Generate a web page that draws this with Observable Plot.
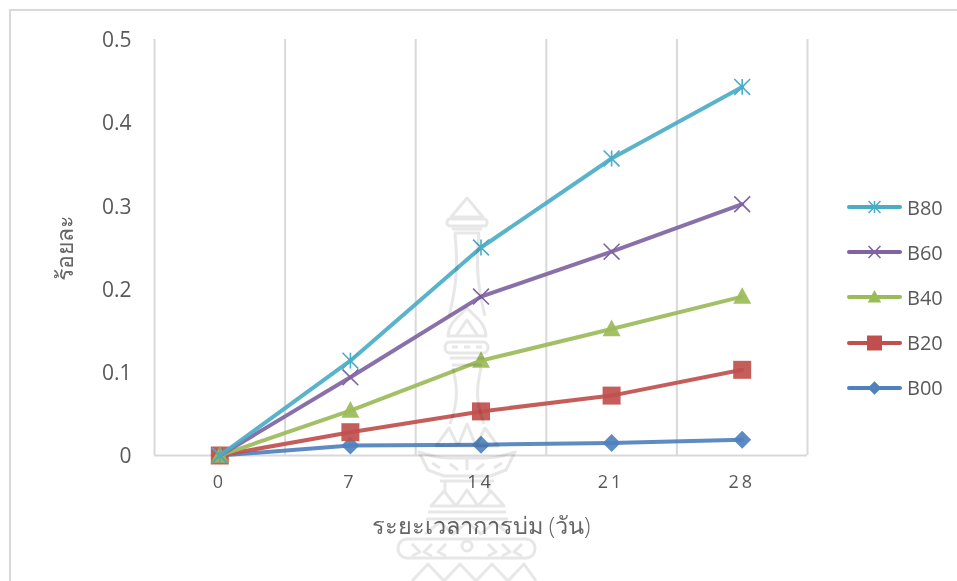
<!DOCTYPE html>
<html lang="th">
<head>
<meta charset="utf-8">
<script src="https://cdn.jsdelivr.net/npm/d3@7"></script>
<script src="https://cdn.jsdelivr.net/npm/@observablehq/plot@0.6"></script>
<style>
  html, body { margin: 0; padding: 0; background: #fff; }
  body { width: 957px; height: 581px; overflow: hidden; position: relative; }
  #frame { position: absolute; left: 9px; top: 9px; width: 960px; height: 600px; border: 2px solid #d9d9d9; box-sizing: border-box; }
  #chart { position: absolute; left: 0; top: 0; }
  #legend { position: absolute; left: 847px; top: 184.5px; font: 20px "Open Sans", sans-serif; color: #595959; }
  #legend .row { display: flex; align-items: center; height: 45.2px; }
  #legend svg { display: block; margin-right: 4px; }
  #seal { position: absolute; left: 0; top: 0; mix-blend-mode: multiply; pointer-events: none; }
  #seal * { fill: none; stroke: #e7e7e7; stroke-width: 3; stroke-linejoin: round; }
</style>
</head>
<body>
<div id="frame"></div>
<div id="chart"></div>
<div id="legend"></div>
<!-- Faint university seal printed across the page -->
<svg id="seal" width="957" height="581" viewBox="0 0 957 581">
  <path d="M467 198 L451 217 H483 Z"/>
  <rect x="447" y="219" width="40" height="7" rx="3"/>
  <path d="M452 229 H482 M454 233 H480"/>
  <path d="M455 234 C458 262 457 285 449 316 M479 234 C476 262 477 285 485 316"/>
  <path d="M448 336 C449 322 458 318 467 308 C476 318 485 322 486 336 Z"/>
  <path d="M456 336 L467 320 L478 336"/>
  <rect x="445" y="342" width="43" height="11" rx="5"/>
  <path d="M452 347 h6 M464 347 h6 M476 347 h6"/>
  <path d="M450 358 H484 M452 365 H482"/>
  <path d="M453 368 C458 390 458 402 450 424 M481 368 C476 390 476 402 484 424"/>
  <path d="M436 446 L449 428 L458 446 L467 424 L476 446 L485 428 L498 446 Z"/>
  <path d="M419 452 C432 456 438 458 448 458 H486 C496 458 502 456 515 452 L506 470 L490 476 H444 L428 470 Z"/>
  <path d="M432 463 L440 468 M450 464 L458 470 M467 459 V470 M484 464 L476 470 M502 463 L494 468"/>
  <path d="M440 481 H494 M445 482 V492 M489 482 V492"/>
  <path d="M431 506 L444 491 L456 506 L467 490 L478 506 L491 491 L504 506 Z"/>
  <path d="M428 512 H506 M426 519 H508"/>
  <path d="M425 534 L440 522 L453 534 L467 522 L481 534 L494 522 L509 534"/>
  <rect x="398" y="539" width="137" height="19" rx="9"/>
  <circle cx="467" cy="546" r="5"/>
  <path d="M412 544 L420 552 L412 556 M432 544 L424 552 L432 556 M446 544 L438 552 L446 556 M488 544 L496 552 L488 556 M502 544 L510 552 L502 556 M522 544 L514 552 L522 556"/>
  <path d="M412 581 L428 564 L444 581 L460 564 L476 581 L492 564 L508 581 L524 564 L536 581"/>
</svg>
<script>
// Days of curing and the percentage measured for each blend
const days = [0, 7, 14, 21, 28];
const categoryEdges = [-3.5, 3.5, 10.5, 17.5, 24.5, 31.5];
const yTicks = [0, 0.1, 0.2, 0.3, 0.4, 0.5];
const B00 = [0, 0.012, 0.013, 0.015, 0.019];
const B20 = [0, 0.028, 0.053, 0.072, 0.103];
const B40 = [0, 0.054, 0.114, 0.152, 0.191];
const B60 = [0, 0.094, 0.191, 0.245, 0.302];
const B80 = [0, 0.114, 0.25, 0.357, 0.443];

const seriesNames = ["B00", "B20", "B40", "B60", "B80"];
const seriesValues = [B00, B20, B40, B60, B80];
const seriesColors = ["#4f81bd", "#c0504d", "#9bbb59", "#8064a2", "#4bacc6"];

const rows = seriesNames.flatMap((name, i) =>
  days.map((day, j) => ({ name, day, value: seriesValues[i][j] }))
);

// Marker glyphs shared by the plot and the key; size is the squared half width
const glyphs = {
  B00: { draw(c, size) { const a = Math.sqrt(size); c.moveTo(0, -a); c.lineTo(a, 0); c.lineTo(0, a); c.lineTo(-a, 0); c.closePath(); } },
  B20: { draw(c, size) { const a = Math.sqrt(size); c.rect(-a, -a, 2 * a, 2 * a); } },
  B40: { draw(c, size) { const a = Math.sqrt(size); c.moveTo(0, -a * 1.05); c.lineTo(a, a * 0.8); c.lineTo(-a, a * 0.8); c.closePath(); } },
  B60: { draw(c, size) { const a = Math.sqrt(size) * 0.88; c.moveTo(-a, -a); c.lineTo(a, a); c.moveTo(a, -a); c.lineTo(-a, a); } },
  B80: { draw(c, size) { const a = Math.sqrt(size) * 0.88; c.moveTo(-a, -a); c.lineTo(a, a); c.moveTo(a, -a); c.lineTo(-a, a); c.moveTo(0, -a); c.lineTo(0, a); } }
};
const filled = new Set(["B00", "B20", "B40"]);

// Plot sizes symbols by area, so a half width of 9 means a radius of 9 / sqrt(pi)
const markerRadius = 9 / Math.sqrt(Math.PI);
const seriesMarks = seriesNames.flatMap((name, i) => {
  const data = rows.filter(d => d.name === name);
  const color = seriesColors[i];
  return [
    Plot.line(data, { x: "day", y: "value", stroke: color, strokeWidth: 4, strokeOpacity: 0.92 }),
    Plot.dot(data, {
      x: "day", y: "value",
      symbol: () => glyphs[name],
      r: markerRadius,
      fill: filled.has(name) ? color : "none",
      fillOpacity: 0.92,
      stroke: filled.has(name) ? "none" : color,
      strokeWidth: 1.6
    })
  ];
});

const chart = Plot.plot({
  width: 957,
  height: 581,
  marginLeft: 154,
  marginRight: 150,
  marginTop: 39,
  marginBottom: 126,
  style: { background: "transparent", fontFamily: "'Open Sans', sans-serif", color: "#595959" },
  x: { type: "linear", domain: [-3.5, 31.5], axis: null },
  y: { domain: [0, 0.5], axis: null },
  marks: [
    Plot.ruleX(categoryEdges, { stroke: "#d9d9d9", strokeWidth: 2 }),
    Plot.ruleY([0], { stroke: "#d9d9d9", strokeWidth: 2 }),
    Plot.axisY(yTicks, { ticks: yTicks, tickSize: 0, tickPadding: 23, fontSize: 21, dy: 1, tickFormat: d => String(d), fill: "#595959", label: null }),
    Plot.axisX(days, { ticks: days, tickSize: 0, tickPadding: 20, fontSize: 18, dx: -2, fill: "#595959", label: null, tickFormat: d => String(d).split("").join("\u2009") }),
    ...seriesMarks,
    Plot.text(["ระยะเวลาการบ่ม (วัน)"], { frameAnchor: "bottom", dy: 78, fontSize: 23.5, fontWeight: 300, fill: "#666666" }),
    Plot.text(["ร้อยละ"], { frameAnchor: "left", rotate: -90, dx: -89, dy: 1, textAnchor: "middle", fontSize: 23, fontWeight: 300, fill: "#666666" })
  ]
});
document.getElementById("chart").append(chart);

// Key on the right, highest blend first
const legend = document.getElementById("legend");
[...seriesNames].reverse().forEach(name => {
  const color = seriesColors[seriesNames.indexOf(name)];
  const row = document.createElement("div");
  row.className = "row";
  const svg = d3.create("svg").attr("width", 56).attr("height", 22);
  svg.append("line").attr("x1", 2).attr("x2", 53).attr("y1", 11).attr("y2", 11)
    .attr("stroke", color).attr("stroke-width", 4).attr("stroke-linecap", "round");
  const path = d3.path();
  glyphs[name].draw(path, name === "B20" ? 56 : 46);
  svg.append("path").attr("transform", "translate(27.5,11)").attr("d", path.toString())
    .attr("fill", filled.has(name) ? color : "none")
    .attr("stroke", filled.has(name) ? "none" : color).attr("stroke-width", 1.6);
  row.append(svg.node());
  row.append(name);
  legend.append(row);
});
</script>
</body>
</html>
